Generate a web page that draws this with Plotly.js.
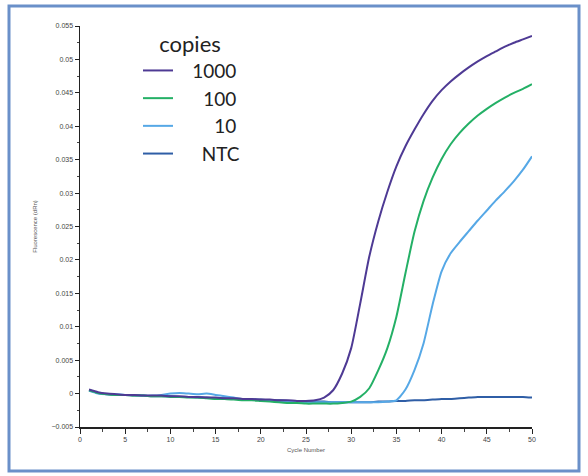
<!DOCTYPE html>
<html>
<head>
<meta charset="utf-8">
<script src="https://cdn.plot.ly/plotly-3.0.1.min.js"></script>
<style>
  html, body { margin: 0; padding: 0; background: #ffffff; }
  #chart { width: 588px; height: 476px; }
</style>
</head>
<body>
<div id="chart"></div>
<script>
// Cycle numbers
var cycles = [1,2,3,4,5,6,7,8,9,10,11,12,13,14,15,16,17,18,19,20,21,22,23,24,25,
              26,27,28,29,30,31,32,33,34,35,36,37,38,39,40,41,42,43,44,45,46,47,48,49,50];

// Series names (legend labels; leading spaces right-align them as in the reference)
var seriesNames = ["\u20031000", "\u2003\u2007100", "\u2003\u2007\u200710", "\u2003\u2002NTC"];
var legendTitle = "\u2003\u2009copies";

// Fluorescence values
var copies1000 = [0.0006, 0.0002, 0.0000, -0.0001, -0.0002, -0.0002, -0.0003, -0.0003, -0.0003, -0.0004,
                  -0.0004, -0.0005, -0.0005, -0.0006, -0.0006, -0.0007, -0.0007, -0.0008, -0.0008, -0.0009,
                  -0.0009, -0.0010, -0.0010, -0.0011, -0.0011, -0.0010, -0.0006, 0.0005, 0.0030, 0.0068,
                  0.0135, 0.0205, 0.0258, 0.0302, 0.0340, 0.0370, 0.0395, 0.0418, 0.0438, 0.0454,
                  0.0467, 0.0478, 0.0488, 0.0497, 0.0505, 0.0512, 0.0519, 0.0525, 0.0530, 0.0535];

var copies100 = [0.0005, 0.0001, -0.0001, -0.0002, -0.0002, -0.0003, -0.0003, -0.0004, -0.0004, -0.0005,
                 -0.0005, -0.0006, -0.0006, -0.0007, -0.0008, -0.0008, -0.0009, -0.0010, -0.0010, -0.0011,
                 -0.0012, -0.0013, -0.0014, -0.0014, -0.0015, -0.0015, -0.0015, -0.0015, -0.0014, -0.0012,
                 -0.0005, 0.0008, 0.0035, 0.0068, 0.0115, 0.0180, 0.0242, 0.0288, 0.0323, 0.0351,
                 0.0373, 0.0390, 0.0404, 0.0416, 0.0426, 0.0435, 0.0443, 0.0450, 0.0456, 0.0463];

var copies10 = [0.0004, 0.0000, -0.0001, -0.0001, -0.0002, -0.0002, -0.0003, -0.0003, -0.0002, 0.0000,
                0.0001, 0.0000, -0.0001, 0.0000, -0.0002, -0.0004, -0.0006, -0.0008, -0.0009, -0.0010,
                -0.0011, -0.0011, -0.0012, -0.0012, -0.0013, -0.0013, -0.0013, -0.0013, -0.0013, -0.0013,
                -0.0013, -0.0013, -0.0013, -0.0012, -0.0010, 0.0006, 0.0035, 0.0075, 0.0133, 0.0183,
                0.0210, 0.0227, 0.0243, 0.0259, 0.0274, 0.0289, 0.0303, 0.0318, 0.0335, 0.0355];

var ntc = [0.0005, 0.0001, -0.0001, -0.0002, -0.0002, -0.0003, -0.0003, -0.0004, -0.0004, -0.0004,
           -0.0005, -0.0005, -0.0006, -0.0006, -0.0007, -0.0007, -0.0008, -0.0008, -0.0009, -0.0009,
           -0.0010, -0.0010, -0.0011, -0.0011, -0.0012, -0.0012, -0.0012, -0.0013, -0.0013, -0.0013,
           -0.0013, -0.0013, -0.0012, -0.0012, -0.0011, -0.0011, -0.0010, -0.0010, -0.0009, -0.0008,
           -0.0008, -0.0007, -0.0006, -0.0005, -0.0005, -0.0005, -0.0005, -0.0005, -0.0005, -0.0006];

var colors = ["#4e3a94", "#24b066", "#56a8e6", "#2f5ea6"];
var seriesValues = [copies1000, copies100, copies10, ntc];

// Draw NTC first so amplification curves sit on top
var order = [3, 2, 1, 0];
var traces = order.map(function (i) {
  return {
    x: cycles,
    y: seriesValues[i],
    type: "scatter",
    mode: "lines",
    name: seriesNames[i],
    legendrank: i + 1,
    line: { color: colors[i], width: 2, shape: "spline", smoothing: 0.6 }
  };
});

// Chart frame (paper coordinates relative to the plot area)
var L = 80, R = 532, T = 26, B = 427;
function px2x(px) { return (px - L) / (R - L); }
function px2y(py) { return (B - py) / (B - T); }

var legendFont = { family: "Lato, 'DejaVu Sans', sans-serif", size: 19, color: "#222" };

var layout = {
  width: 588,
  height: 476,
  paper_bgcolor: "#ffffff",
  plot_bgcolor: "#ffffff",
  margin: { l: L, r: 588 - R, t: T, b: 476 - B, pad: 0 },
  font: { family: "Liberation Sans, Arial, sans-serif", color: "#333" },
  showlegend: true,
  legend: {
    x: px2x(138),
    y: px2y(23),
    xanchor: "left",
    yanchor: "top",
    bgcolor: "rgba(0,0,0,0)",
    borderwidth: 0,
    itemwidth: 30,
    traceorder: "normal",
    font: legendFont,
    title: { text: legendTitle, font: { family: legendFont.family, size: 22, color: "#222" } }
  },
  xaxis: {
    range: [0, 50],
    tick0: 0,
    dtick: 5,
    ticks: "outside",
    ticklen: 5,
    tickwidth: 1,
    tickcolor: "#222",
    minor: { dtick: 2.5, ticks: "outside", ticklen: 3, tickcolor: "#444" },
    showline: true,
    linecolor: "#222",
    linewidth: 1.5,
    showgrid: false,
    zeroline: false,
    tickfont: { size: 7, color: "#444" },
    title: { text: "Cycle Number", font: { size: 6, color: "#555" }, standoff: 6 }
  },
  yaxis: {
    range: [-0.005, 0.055],
    tick0: -0.005,
    dtick: 0.005,
    ticks: "outside",
    ticklen: 4,
    tickwidth: 1,
    tickcolor: "#222",
    minor: { dtick: 0.0025, ticks: "outside", ticklen: 2, tickcolor: "#444" },
    showline: true,
    linecolor: "#222",
    linewidth: 1.5,
    showgrid: false,
    zeroline: false,
    tickfont: { size: 7, color: "#444" },
    title: { text: "Fluorescence (dRn)", font: { size: 6, color: "#555" }, standoff: 13 }
  },
  shapes: [{
    type: "rect",
    xref: "paper", yref: "paper",
    x0: px2x(9), x1: px2x(579),
    y0: px2y(471), y1: px2y(6),
    line: { color: "#6a90c9", width: 3 },
    fillcolor: "rgba(0,0,0,0)",
    layer: "above"
  }]
};

Plotly.newPlot("chart", traces, layout, { displayModeBar: false, staticPlot: true });
</script>
</body>
</html>
